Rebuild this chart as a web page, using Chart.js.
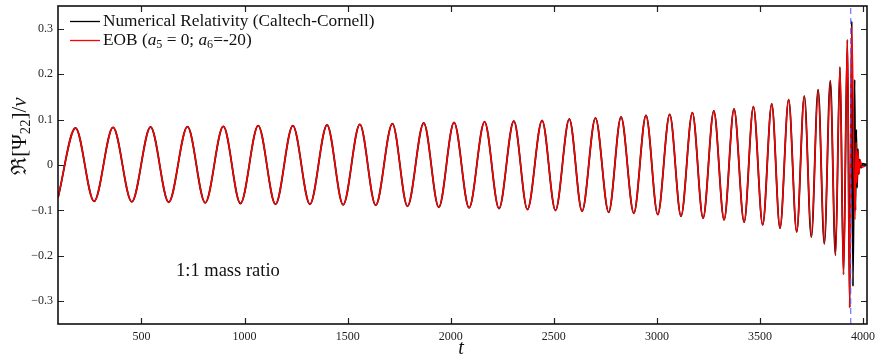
<!DOCTYPE html>
<html>
<head>
<meta charset="utf-8">
<script src="https://cdn.jsdelivr.net/npm/chart.js@4"></script>
<style>
  body { margin: 0; background: #fff; }
  canvas { display: block; }
</style>
</head>
<body>
<canvas id="wave" width="875" height="360"></canvas>
<script>
// successive extrema of the 2,2 mode (t, value), shared by both curves up to merger
var inspiralT = [95, 180, 270, 362, 453, 544, 632, 723, 809, 897, 980, 1066, 1150, 1234, 1317, 1400,
  1478, 1559, 1636, 1717, 1790, 1869, 1942, 2016, 2089, 2164, 2234, 2306, 2372, 2443, 2508, 2575,
  2637, 2702, 2766, 2826, 2888, 2947, 3004, 3062, 3117, 3172, 3224, 3276, 3326, 3374, 3423, 3468,
  3513, 3557, 3597, 3639, 3678, 3715, 3749, 3782, 3812, 3841, 3866, 3888, 3905, 3924, 3935];
var inspiralV = [-0.072, 0.0815, -0.080, 0.083, -0.081, 0.0837, -0.082, 0.0844, -0.0833, 0.0851, -0.0848, 0.0866,
  -0.0864, 0.0866, -0.0864, 0.0881, -0.0877, 0.0895, -0.0886, 0.091, -0.0908, 0.0925, -0.093, 0.0938,
  -0.0943, 0.0954, -0.0958, 0.0969, -0.098, 0.0982, -0.1002, 0.1013, -0.1018, 0.1035, -0.104, 0.1057,
  -0.1062, 0.1092, -0.109, 0.1114, -0.1127, 0.1152, -0.1171, 0.1189, -0.1207, 0.1233, -0.1259, 0.1284,
  -0.1316, 0.1343, -0.1391, 0.1437, -0.147, 0.1514, -0.1585, 0.1657, -0.1734, 0.1855, -0.1985, 0.2156,
  -0.2409, 0.2756, -0.314];

// merger + ringdown
var nrTailT = [3945, 3951, 3959, 3963, 3967, 3971, 3975, 3979, 3984, 3990, 3997, 4019];
var nrTailV = [0.317, -0.267, 0.188, -0.10, 0.078, -0.05, 0.035, -0.02, 0.012, -0.006, 0.003, 0];
var eobTailT = [3945, 3961, 3966, 3970, 3975, 3980, 3986, 3995, 4019];
var eobTailV = [0.305, -0.12, 0.05, -0.04, 0.03, -0.02, 0.01, -0.005, 0];

var tMerger = 3940;
var xTicks = [500, 1000, 1500, 2000, 2500, 3000, 3500, 4000];
var yTicks = [-0.3, -0.2, -0.1, 0, 0.1, 0.2, 0.3];

var SERIF = '"Liberation Serif", "DejaVu Serif", serif';

function pts(ts, vs) {
  var out = [];
  for (var i = 0; i < ts.length; i++) out.push({ x: ts[i], y: vs[i] });
  return out;
}
var nrData = pts(inspiralT, inspiralV).concat(pts(nrTailT, nrTailV));
var eobData = pts(inspiralT, inspiralV).concat(pts(eobTailT, eobTailV));

// text with italic / subscript pieces: [text, 'n'|'i'|'s']
function drawRich(ctx, parts, x, y, size) {
  for (var i = 0; i < parts.length; i++) {
    var p = parts[i];
    var fs = p[1] === 's' ? size * 0.7 : size;
    ctx.font = (p[1] === 'i' ? 'italic ' : '') + fs + 'px ' + SERIF;
    ctx.fillText(p[0], x, y + (p[1] === 's' ? size * 0.28 : 0));
    x += ctx.measureText(p[0]).width;
  }
  return x;
}
function richWidth(ctx, parts, size) {
  var w = 0;
  for (var i = 0; i < parts.length; i++) {
    var p = parts[i];
    var fs = p[1] === 's' ? size * 0.7 : size;
    ctx.font = (p[1] === 'i' ? 'italic ' : '') + fs + 'px ' + SERIF;
    w += ctx.measureText(p[0]).width;
  }
  return w;
}

var frame = {
  id: 'frame',
  afterDraw: function (chart) {
    var ctx = chart.ctx, a = chart.chartArea;
    var xs = chart.scales.x, ys = chart.scales.y;
    ctx.save();
    ctx.setLineDash([]);
    // inward ticks on all four sides
    ctx.strokeStyle = '#222';
    ctx.lineWidth = 1.2;
    ctx.beginPath();
    xTicks.forEach(function (v) {
      var px = Math.round(xs.getPixelForValue(v)) + 0.5;
      ctx.moveTo(px, a.bottom); ctx.lineTo(px, a.bottom - 6);
      ctx.moveTo(px, a.top); ctx.lineTo(px, a.top + 6);
    });
    yTicks.forEach(function (v) {
      var py = Math.round(ys.getPixelForValue(v)) + 0.5;
      ctx.moveTo(a.left, py); ctx.lineTo(a.left + 6, py);
      ctx.moveTo(a.right, py); ctx.lineTo(a.right - 6, py);
    });
    ctx.stroke();
    ctx.strokeStyle = '#111';
    ctx.lineWidth = 1.6;
    ctx.strokeRect(a.left, a.top, a.right - a.left, a.bottom - a.top);

    // legend
    ctx.lineWidth = 1.3;
    ctx.strokeStyle = '#000';
    ctx.beginPath(); ctx.moveTo(70, 21.5); ctx.lineTo(100, 21.5); ctx.stroke();
    ctx.strokeStyle = '#ff0000';
    ctx.beginPath(); ctx.moveTo(70, 40.5); ctx.lineTo(100, 40.5); ctx.stroke();
    ctx.fillStyle = '#111';
    ctx.textBaseline = 'middle';
    ctx.textAlign = 'left';
    drawRich(ctx, [['Numerical Relativity (Caltech-Cornell)', 'n']], 103, 21, 17.3);
    drawRich(ctx, [['EOB (', 'n'], ['a', 'i'], ['5', 's'], [' = 0; ', 'n'], ['a', 'i'], ['6', 's'], ['=-20)', 'n']], 103, 40, 17.3);

    drawRich(ctx, [['1:1 mass ratio', 'n']], 176, 271, 18.5);

    // axis titles
    var tx = xs.getPixelForValue(2050);
    ctx.font = 'italic 20px ' + SERIF;
    ctx.textAlign = 'center';
    ctx.fillText('t', tx, 349);

    ctx.textAlign = 'left';
    var yParts = [['\u211C[\u03A8', 'n'], ['22', 's'], [']/', 'n'], ['\u03BD', 'i']];
    ctx.translate(20, 136);
    ctx.rotate(-Math.PI / 2);
    var w = richWidth(ctx, yParts, 21);
    drawRich(ctx, yParts, -w / 2, 0, 21);
    ctx.restore();
  }
};

var tickFont = { family: SERIF, size: 12 };

function fixTicks(list) {
  return function (scale) {
    scale.ticks = list.map(function (v) { return { value: v }; });
  };
}

new Chart(document.getElementById('wave'), {
  type: 'line',
  data: {
    datasets: [
      { label: 'Numerical Relativity (Caltech-Cornell)', data: nrData, borderColor: '#000', borderWidth: 1.8,
        pointRadius: 0, cubicInterpolationMode: 'monotone', order: 2 },
      { label: 'EOB', data: eobData, borderColor: '#ff0000', borderWidth: 1.5,
        pointRadius: 0, cubicInterpolationMode: 'monotone', order: 1 },
      { label: 'merger', data: [{ x: tMerger, y: -0.35 }, { x: tMerger, y: 0.35 }], borderColor: 'rgba(90,90,255,0.85)',
        borderWidth: 1.2, borderDash: [6, 4], pointRadius: 0, order: 0 }
    ]
  },
  options: {
    responsive: false,
    animation: false,
    layout: { padding: { left: 0, right: 8, top: 6, bottom: 0 } },
    plugins: { legend: { display: false }, tooltip: { enabled: false } },
    scales: {
      x: {
        type: 'linear', min: 95, max: 4019,
        grid: { display: false, drawTicks: false }, border: { display: false },
        ticks: { padding: 6, color: '#222', font: tickFont, maxRotation: 0, autoSkip: false,
          callback: function (v) { return String(v); } },
        afterBuildTicks: fixTicks(xTicks),
        afterFit: function (s) { s.height = 36; s.paddingLeft = 0; s.paddingRight = 0; }
      },
      y: {
        type: 'linear', min: -0.35, max: 0.35,
        grid: { display: false, drawTicks: false }, border: { display: false },
        ticks: {
          padding: 5, color: '#222', font: tickFont, autoSkip: false,
          callback: function (v) {
            if (v === 0) return '0';
            return (v < 0 ? '\u2212' : '') + Math.abs(v).toFixed(1);
          }
        },
        afterBuildTicks: fixTicks(yTicks),
        afterFit: function (s) { s.width = 58; s.paddingTop = 0; s.paddingBottom = 0; }
      }
    }
  },
  plugins: [frame]
});
</script>
</body>
</html>
